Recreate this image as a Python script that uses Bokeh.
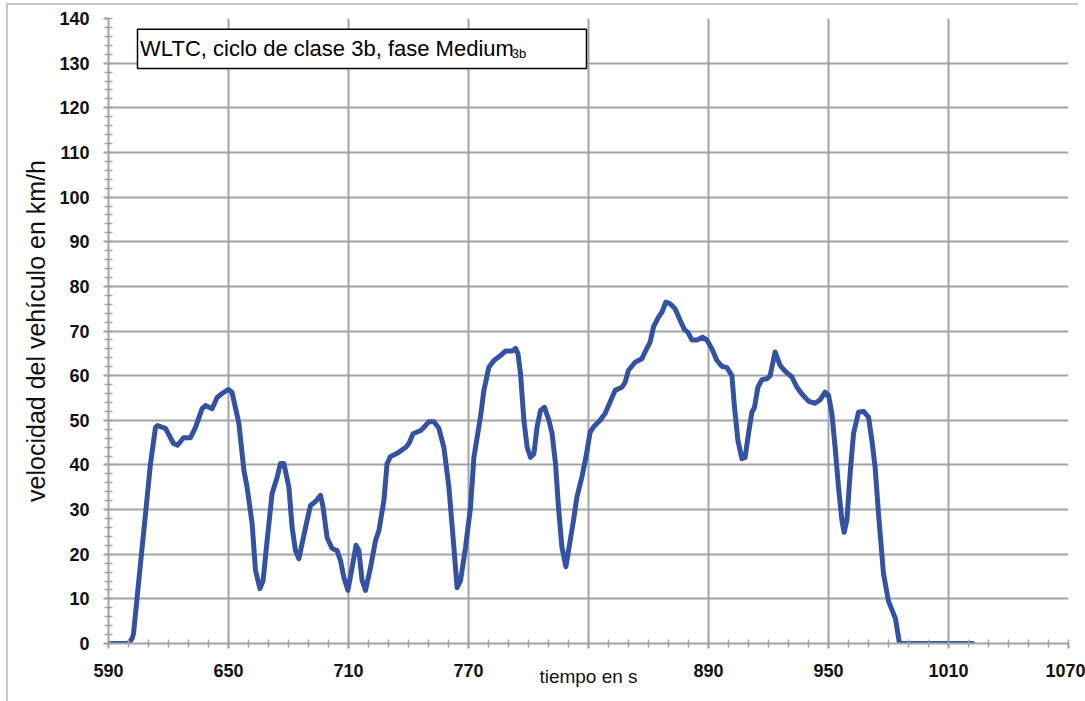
from bokeh.plotting import figure
from bokeh.models import FixedTicker, SingleIntervalTicker, Range1d, Label, BoxAnnotation, ColumnDataSource
from bokeh.embed import file_html
from bokeh.resources import INLINE

# ---- data ----
time_s = [590, 600, 601.8, 602.5, 606, 608.5, 611, 613.5, 614.5, 618.5, 622.5, 624.5, 627.5, 631,
          633.5, 636.8, 638.5, 641.8, 644.3, 646.8, 650, 651.8, 655.2, 657.7, 659.3, 661.8, 663.5,
          665.7, 667.3, 669.3, 671.8, 674.3, 676, 677.7, 680.2, 681.8, 683.5, 685.2, 686.8, 689.3,
          691, 693.5, 696, 697.3, 699.3, 701.8, 704.3, 706, 707.7, 709.7, 711.8, 713.8, 715.2, 716.8,
          718.5, 721, 723.5, 725.2, 727.7, 729.3, 731, 734.3, 738.5, 740.2, 742.3, 746, 747.7, 750.2,
          752.7, 755.2, 757.7, 760.2, 762.7, 764.3, 766, 768.5, 771, 772.7, 776, 777.7, 780.2, 782.7,
          786, 788.5, 791.8, 793.5, 794.7, 796, 797.7, 799.3, 801, 802.7, 804.3, 806, 808, 810.2,
          811.8, 813.5, 815, 816.7, 818.7, 820.3, 822.5, 824.2, 826.7, 828.7, 830.8, 832.5, 835.8,
          838.3, 840.8, 843.3, 846.7, 848.3, 850, 853.3, 856.7, 858.3, 860.8, 862.5, 865, 866.7,
          868.7, 870.8, 873.3, 875.8, 878, 879.7, 881.7, 884.2, 887, 889.2, 891.7, 894.2, 896.7,
          899.2, 901.7, 903, 904.7, 906.7, 908.3, 910, 911.7, 913, 914.7, 916.7, 919.2, 920.8, 923.3,
          925.8, 928.3, 931.7, 934.2, 936.7, 940, 943.3, 945.8, 948.3, 950, 951.7, 953.3, 955, 956.7,
          957.8, 959.2, 960.8, 962.5, 965, 967.5, 970, 971.7, 973.3, 975, 977.5, 980, 983.5, 985.5,
          1022]
speed_kmh = [0, 0, 1.1, 2.2, 17.9, 29, 40.3, 48.4, 48.8, 48.2, 44.8, 44.4, 46.1, 46.1,
             48.4, 52.6, 53.3, 52.6, 55.1, 56, 56.9, 56.2, 49.3, 38.8, 35, 26.9, 16.4,
             12.3, 14.1, 23, 33.6, 37.2, 40.3, 40.3, 35, 26, 20.8, 19, 22.4, 27.6,
             30.9, 31.8, 33.2, 30.5, 23.7, 21.3, 20.8, 18.6, 14.8, 11.9, 17, 22, 20.8, 14.1,
             11.9, 17, 23, 25.3, 32, 40.3, 41.9, 42.6, 43.9, 44.8, 47, 47.7, 48.4, 49.7,
             49.7, 48.2, 43.9, 35, 21.5, 12.5, 14.1, 21.5, 30.5, 41.7, 50.8, 56.7, 61.9, 63.4,
             64.5, 65.5, 65.5, 66.1, 65, 60.5, 50, 44, 41.7, 42.5, 48.5, 52.2, 52.9, 50,
             47, 40.3, 30.5, 21.6, 17.2, 21.6, 27.6, 32.8, 37.3, 41.7, 47.3, 48.5, 50,
             51.5, 54.1, 56.7, 57.4, 58.5, 61.2, 63, 63.8, 65.3, 67.5, 70.9, 73.1, 74.2,
             76.5, 76.1, 75, 72.4, 70.3, 69.7, 68, 68, 68.6, 68, 66, 63.4, 62.1,
             61.8, 60, 52.9, 45.5, 41.4, 41.7, 47, 51.8, 52.9, 57.4, 59.1, 59.3, 60, 65.3,
             62.3, 61, 59.7, 57.4, 55.9, 54.3, 53.8, 54.6, 56.3, 55.6, 51.5, 44, 35, 27.6,
             24.9, 27.6, 38, 47, 51.8, 52, 50.7, 45.5, 39.5, 29.1, 15.6, 9.5, 5.5, 0,
             0]

x_major = [590, 650, 710, 770, 830, 890, 950, 1010, 1070]
x_minor = list(range(590, 1071, 10))
x_tick_labels = {830: " "}
y_major_interval = 10

title_main = "WLTC, ciclo de clase 3b, fase Medium"
title_sub = "3b"
x_label = "tiempo en s"
y_label = "velocidad del vehículo en km/h"

# ---- figure ----
p = figure(width=1085, height=701, output_backend="svg", toolbar_location=None,
           x_range=Range1d(590, 1070), y_range=Range1d(0, 140),
           min_border_left=108, min_border_right=17, min_border_top=18, min_border_bottom=58)
p.outline_line_color = None
p.background_fill_color = "white"
p.border_fill_color = None
p.styles = {
    "background": "linear-gradient(#c8c8c8, #c8c8c8) 7px 3px / 1071px 2px no-repeat, "
                  "linear-gradient(#c8c8c8, #c8c8c8) 6px 3px / 2px 698px no-repeat, white",
}

xt = FixedTicker(ticks=x_major, minor_ticks=x_minor)
yt = SingleIntervalTicker(interval=y_major_interval, num_minor_ticks=5)
p.xaxis.ticker = xt
p.yaxis.ticker = yt
p.xgrid.ticker = xt
p.ygrid.ticker = yt

grid_col = "#a3a3a3"
for g in (p.xgrid, p.ygrid):
    g.grid_line_color = grid_col
    g.grid_line_width = 2

tick_font = "Liberation Sans"
for ax in (p.xaxis, p.yaxis):
    ax.axis_line_color = grid_col
    ax.axis_line_width = 2
    ax.major_tick_line_color = grid_col
    ax.major_tick_line_width = 2
    ax.minor_tick_line_color = grid_col
    ax.minor_tick_line_width = 1.5
    ax.major_tick_in = 0
    ax.major_tick_out = 5
    ax.minor_tick_in = 4
    ax.minor_tick_out = 4
    ax.major_label_text_font = tick_font
    ax.major_label_text_font_style = "bold"
    ax.major_label_text_font_size = "18px"
    ax.major_label_text_color = "#111111"
    ax.axis_label_text_font = "Liberation Sans"
    ax.axis_label_text_font_style = "normal"
    ax.axis_label_text_color = "#111111"

p.xaxis.major_label_overrides = x_tick_labels
p.xaxis.major_label_standoff = 12
p.yaxis.major_label_standoff = 14
p.xaxis.axis_label = x_label
p.xaxis.axis_label_text_font_size = "19px"
p.xaxis.axis_label_standoff = -18
p.yaxis.axis_label = y_label
p.yaxis.axis_label_text_font_size = "25px"
p.yaxis.axis_label_standoff = 6

src = ColumnDataSource(dict(t=time_s, v=speed_kmh))
p.line("t", "v", source=src, line_color="#3452a4", line_width=5,
       line_join="round", line_cap="round")

# title box
box = BoxAnnotation(left=604.5, right=829, bottom=128.8, top=137.6,
                    fill_color="white", fill_alpha=1.0, line_color="black", line_alpha=1.0,
                    line_width=1.5, level="overlay")
p.add_layout(box)
p.add_layout(Label(x=605.8, y=133.3, text=title_main, text_font="Liberation Sans",
                   text_font_size="22px", text_baseline="middle", text_color="black",
                   level="overlay"))
p.add_layout(Label(x=791.6, y=132.2, text=title_sub, text_font="Liberation Sans",
                   text_font_size="13px", text_baseline="alphabetic", text_color="black",
                   level="overlay"))

open("out.html", "w").write(file_html(p, INLINE))
